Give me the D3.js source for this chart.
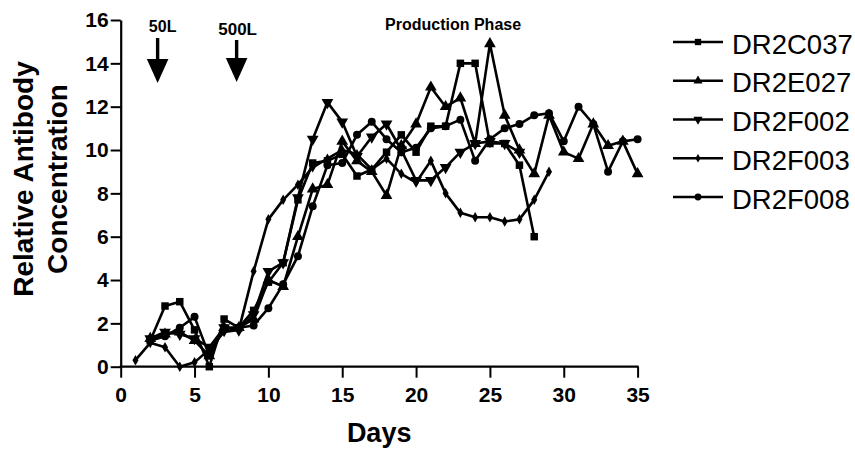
<!DOCTYPE html>
<html>
<head>
<meta charset="utf-8">
<script src="https://cdn.jsdelivr.net/npm/d3@7"></script>
<style>
  html, body { margin: 0; padding: 0; background: #fff; }
  svg { display: block; }
  text { font-family: "Liberation Sans", Arial, Helvetica, sans-serif; fill: #000; }
</style>
</head>
<body>
<svg id="chart" width="855" height="453"></svg>
<script>
// Relative antibody concentration per cell line, by culture day
const days = d3.range(0, 36);
const dr2c037Days = d3.range(2, 29);
const dr2c037 = [1.2, 2.8, 3.0, 1.7, 0.0, 2.2, 1.8, 2.6, 3.9, 4.8, 7.7, 9.4, 9.5, 9.8, 8.8, 9.1, 9.9, 10.7, 9.9, 11.1, 11.1, 14.0, 14.0, 10.3, 10.3, 9.3, 6.0];
const dr2e027Days = d3.range(2, 36);
const dr2e027 = [1.3, 1.5, 1.6, 1.2, 0.5, 1.8, 1.8, 2.2, 4.0, 3.7, 6.0, 8.2, 8.4, 10.4, 9.5, 9.0, 7.9, 10.2, 11.2, 12.9, 12.0, 12.4, 10.3, 14.9, 11.6, 10.0, 8.9, 11.6, 9.9, 9.6, 11.2, 10.2, 10.4, 8.9];
const dr2f002Days = d3.range(2, 28);
const dr2f002 = [1.3, 1.6, 1.5, 1.3, 0.9, 1.8, 1.7, 2.4, 4.4, 4.8, 7.8, 10.5, 12.2, 11.3, 9.7, 10.6, 11.2, 10.0, 8.6, 8.6, 9.2, 9.9, 10.3, 10.4, 10.3, 9.9];
const dr2f003Days = d3.range(1, 30);
const dr2f003 = [0.3, 1.1, 0.9, 0.0, 0.2, 0.8, 1.6, 1.7, 4.4, 6.8, 7.7, 8.4, 9.2, 9.6, 10.0, 9.8, 9.1, 9.6, 8.9, 8.5, 9.5, 8.0, 7.1, 6.9, 6.9, 6.7, 6.8, 7.7, 9.0];
const dr2f008Days = d3.range(2, 36);
const dr2f008 = [1.2, 1.4, 1.8, 2.3, 0.5, 1.8, 1.8, 1.9, 2.7, 3.8, 5.1, 7.4, 9.3, 9.4, 10.7, 11.3, 10.5, 9.9, 10.1, 11.0, 11.1, 11.4, 9.5, 10.5, 11.0, 11.2, 11.6, 11.7, 10.4, 12.0, 11.2, 9.0, 10.4, 10.5];

const seriesNames = ["DR2C037", "DR2E027", "DR2F002", "DR2F003", "DR2F008"];
const seriesDays = [dr2c037Days, dr2e027Days, dr2f002Days, dr2f003Days, dr2f008Days];
const seriesValues = [dr2c037, dr2e027, dr2f002, dr2f003, dr2f008];
const markerKinds = ["square", "triangle", "triangleDown", "diamond", "circle"];

const xTicks = [0, 5, 10, 15, 20, 25, 30, 35];
const yTicks = [0, 2, 4, 6, 8, 10, 12, 14, 16];

// Scale-up events marked with arrows, and the phase label (day positions)
const eventLabels = ["50L", "500L"];
const eventDays = [2.5, 7.85];
const phaseLabel = "Production Phase";
const phaseDay = 17.9;

const svg = d3.select("#chart");
svg.append("rect").attr("width", 855).attr("height", 453).attr("fill", "#fff");

const x = d3.scaleLinear().domain([0, 35]).range([120.7, 637.6]);
const y = d3.scaleLinear().domain([0, 16]).range([366.7, 20]);

// Axes
const xAxis = svg.append("g")
  .attr("transform", `translate(0,${y(0)})`)
  .call(d3.axisBottom(x).tickValues(xTicks).tickSize(11).tickSizeOuter(0).tickPadding(9).tickFormat(d3.format("d")));
const yAxis = svg.append("g")
  .attr("transform", `translate(${x(0)},0)`)
  .call(d3.axisLeft(y).tickValues(yTicks).tickSize(10).tickSizeOuter(0).tickPadding(2).tickFormat(d3.format("d")));

[xAxis, yAxis].forEach(g => {
  g.select(".domain").attr("stroke", "#000").attr("stroke-width", 2.2);
  g.selectAll(".tick line").attr("stroke", "#000").attr("stroke-width", 2);
  g.selectAll(".tick text")
    .attr("font-family", "Liberation Sans, Arial, sans-serif")
    .attr("font-size", 21)
    .attr("font-weight", "bold")
    .attr("fill", "#000");
});
// extend x axis line to meet y axis outer edge
xAxis.select(".domain").attr("d", `M${x(0) - 1},0H${x(35) + 1}`);

// Axis titles
svg.append("text")
  .attr("x", x(17.5)).attr("y", 442)
  .attr("text-anchor", "middle")
  .attr("font-size", 27).attr("font-weight", "bold")
  .text("Days");

const yTitle = svg.append("text")
  .attr("transform", "translate(33,179) rotate(-90)")
  .attr("text-anchor", "middle")
  .attr("font-size", 28).attr("font-weight", "bold");
yTitle.append("tspan").attr("x", 0).attr("y", 0).text("Relative Antibody");
yTitle.append("tspan").attr("x", 0).attr("y", 34).text("Concentration");

// Markers
function markerPath(kind, size) {
  switch (kind) {
    case "square": return d3.symbol(d3.symbolSquare, size)();
    case "triangle": return d3.symbol(d3.symbolTriangle, size)();
    case "triangleDown": return d3.symbol(d3.symbolTriangle, size)();
    case "diamond": return d3.symbol(d3.symbolDiamond, size)();
    default: return d3.symbol(d3.symbolCircle, size)();
  }
}
const plotSizes = { square: 56, triangle: 60, triangleDown: 60, diamond: 32, circle: 50 };
const legendSizes = { square: 40, triangle: 36, triangleDown: 36, diamond: 22, circle: 36 };

const line = d3.line().x(d => x(d[0])).y(d => y(d[1]));

seriesNames.forEach((name, i) => {
  const pts = seriesDays[i].map((d, j) => [d, seriesValues[i][j]]);
  const g = svg.append("g").attr("class", "series");
  g.append("path")
    .attr("d", line(pts))
    .attr("fill", "none")
    .attr("stroke", "#000")
    .attr("stroke-width", 2.6)
    .attr("stroke-linejoin", "round");
  const kind = markerKinds[i];
  g.selectAll("path.mk").data(pts).join("path")
    .attr("class", "mk")
    .attr("d", markerPath(kind, plotSizes[kind]))
    .attr("transform", d => `translate(${x(d[0])},${y(d[1])})` + (kind === "triangleDown" ? " rotate(180)" : ""))
    .attr("fill", "#000");
});

// Event arrows and labels
eventLabels.forEach((lab, i) => {
  const cx = x(eventDays[i]);
  const top = i === 0 ? 38 : 40;
  const tip = i === 0 ? 83 : 82;
  svg.append("text")
    .attr("x", cx + (i === 0 ? 5 : 1)).attr("y", i === 0 ? 32.3 : 35)
    .attr("text-anchor", "middle")
    .attr("font-size", i === 0 ? 16 : 17).attr("font-weight", "bold")
    .text(lab);
  svg.append("line")
    .attr("x1", cx).attr("x2", cx).attr("y1", top).attr("y2", tip - 20)
    .attr("stroke", "#000").attr("stroke-width", 3.4);
  svg.append("path")
    .attr("d", `M${cx - 10.8},${tip - 24}L${cx + 10.8},${tip - 24}L${cx},${tip}Z`)
    .attr("fill", "#000");
});

svg.append("text")
  .attr("x", x(phaseDay)).attr("y", 30)
  .attr("font-size", 16).attr("font-weight", "bold")
  .text(phaseLabel);

// Legend
const legend = svg.append("g").attr("transform", "translate(673,0)");
seriesNames.forEach((name, i) => {
  const cy = 42 + i * 38.75;
  const kind = markerKinds[i];
  legend.append("line")
    .attr("x1", 0).attr("x2", 50).attr("y1", cy).attr("y2", cy)
    .attr("stroke", "#000").attr("stroke-width", 2.6);
  legend.append("path")
    .attr("d", markerPath(kind, legendSizes[kind]))
    .attr("transform", `translate(25,${cy})` + (kind === "triangleDown" ? " rotate(180)" : ""))
    .attr("fill", "#000");
  legend.append("text")
    .attr("x", 59).attr("y", cy + 11.5)
    .attr("font-size", 27.5)
    .text(name);
});
</script>
</body>
</html>
